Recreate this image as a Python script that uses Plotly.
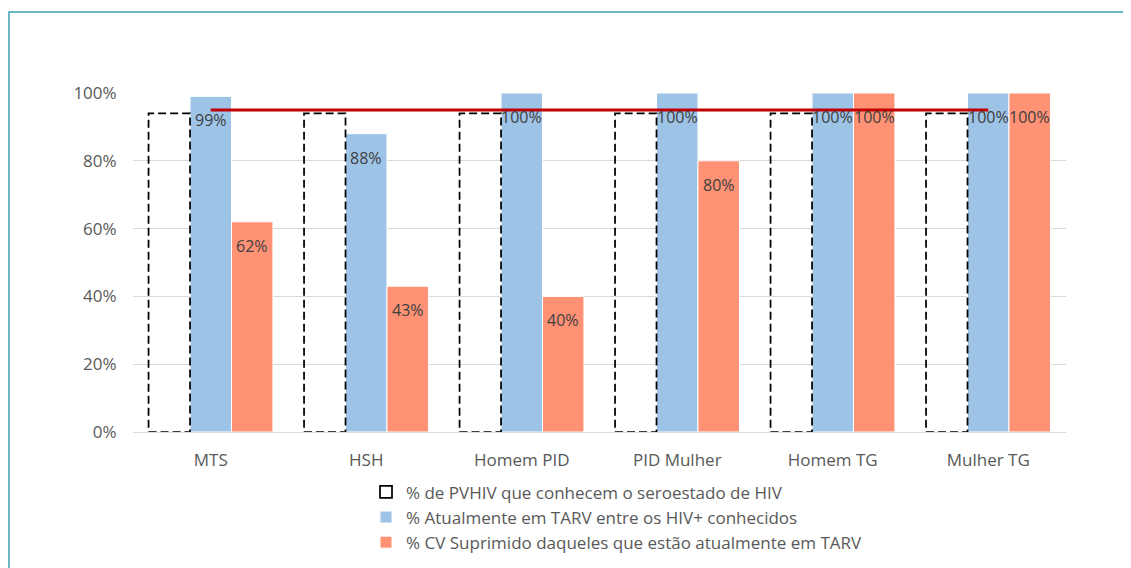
import plotly.graph_objects as go

categories = ["MTS", "HSH", "Homem PID", "PID Mulher", "Homem TG", "Mulher TG"]
conhecem = [0.94, 0.94, 0.94, 0.94, 0.94, 0.94]
em_tarv = [0.99, 0.88, 1.00, 1.00, 1.00, 1.00]
cv_suprimido = [0.62, 0.43, 0.40, 0.80, 1.00, 1.00]
meta = [0.95, 0.95, 0.95, 0.95, 0.95, 0.95]

names = [
    "% de PVHIV que conhecem o seroestado de HIV",
    "% Atualmente em TARV entre os HIV+ conhecidos",
    "% CV Suprimido daqueles que estão atualmente em TARV",
]

FONT = "Open Sans"
TXT = "#595959"
LBL = "#404040"
BARGAP = 0.2
NBARS = 3
W = (1 - BARGAP) / NBARS

# page body has an 8px margin; compensate so the plot lands where the reference has it
OFF = 8
FIG_W, FIG_H = 1131 - OFF, 568 - OFF
PL, PT, PR, PB = 133 - OFF, 93 - OFF, 1066 - OFF, 432 - OFF
PW, PH = PR - PL, PB - PT

fig = go.Figure()

# invisible bar keeps the group slot for the dashed series
fig.add_trace(go.Bar(
    x=categories, y=conhecem, name=names[0],
    marker=dict(color="rgba(0,0,0,0)", line=dict(width=0)),
    showlegend=False, hoverinfo="x+y",
))
fig.add_trace(go.Bar(
    x=categories, y=em_tarv, name=names[1],
    marker=dict(color="#9DC3E6", line=dict(color="white", width=1)),
    legendrank=2, legendgroup="tarv",
))
fig.add_trace(go.Bar(
    x=categories, y=cv_suprimido, name=names[2],
    marker=dict(color="#FF9175", line=dict(color="white", width=1)),
    legendrank=3, legendgroup="cv",
))
fig.add_trace(go.Scatter(
    x=categories, y=meta, mode="lines",
    line=dict(color="#C00000", width=3),
    showlegend=False, hoverinfo="skip",
))

# dashed outline bars for the first series
for i, v in enumerate(conhecem):
    x0 = i - (1 - BARGAP) / 2
    fig.add_shape(
        type="rect", xref="x", yref="y",
        x0=x0, x1=x0 + W, y0=0, y1=v,
        line=dict(color="black", width=1.75, dash="8px,4px"),
        fillcolor="rgba(0,0,0,0)",
        showlegend=(i == 0), name=names[0], legendrank=1,
        legendgroup="conhecem",
    )

# data labels for the blue and orange bars
for series, off in ((em_tarv, 0.0), (cv_suprimido, W)):
    for i, v in enumerate(series):
        fig.add_annotation(
            x=i + off, y=v, xref="x", yref="y",
            text=f"{v:.0%}", showarrow=False,
            yanchor="top", yshift=-11,
            font=dict(family=FONT, size=16, color=LBL),
        )

# outer frame
fig.add_shape(
    type="rect", xref="paper", yref="paper",
    x0=(9 - OFF - PL) / PW, x1=1.3, y0=-0.7, y1=(PB - (12 - OFF)) / PH,
    line=dict(color="#3AA0B2", width=1.5), fillcolor="rgba(0,0,0,0)",
    layer="below",
)

fig.update_layout(
    width=FIG_W, height=FIG_H,
    margin=dict(l=PL, r=FIG_W - PR, t=PT, b=FIG_H - PB, autoexpand=False),
    paper_bgcolor="white", plot_bgcolor="white",
    barmode="group", bargap=BARGAP, bargroupgap=0,
    font=dict(family=FONT, size=17, color=TXT),
    legend=dict(
        orientation="v", x=(366 - OFF - PL) / PW, xanchor="left",
        y=-0.125, yanchor="top",
        font=dict(family=FONT, size=17, color=TXT),
        tracegroupgap=9.5, traceorder="normal",
        bgcolor="rgba(0,0,0,0)",
    ),
    showlegend=True,
)
fig.update_yaxes(
    range=[0, 1], dtick=0.2, tickformat=".0%",
    showgrid=True, gridcolor="#D9D9D9", gridwidth=1,
    zeroline=False, showline=False,
    ticks="outside", ticklen=12, tickcolor="rgba(0,0,0,0)",
    tickfont=dict(family=FONT, size=17, color=TXT),
)
fig.update_xaxes(
    showline=True, linecolor="#D9D9D9", linewidth=1,
    ticks="outside", ticklen=13, tickcolor="rgba(0,0,0,0)",
    tickfont=dict(family=FONT, size=17, color=TXT),
)

fig.write_html("out.html")
